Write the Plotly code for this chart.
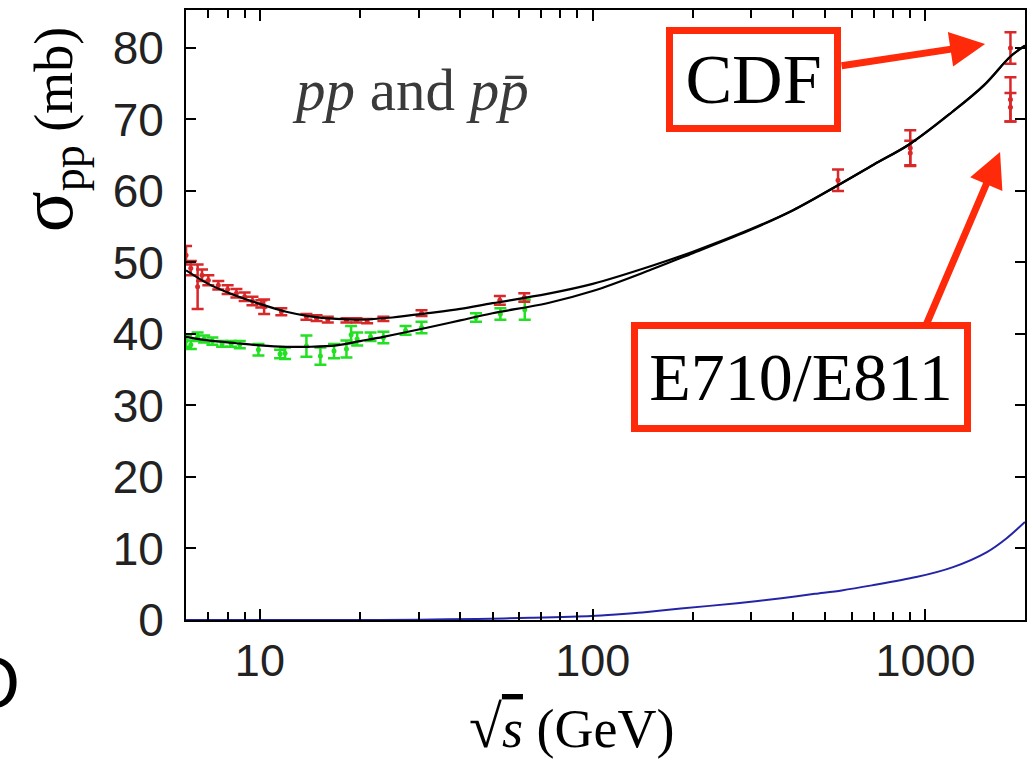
import plotly.graph_objects as go

# ---------------- data ----------------
# p-pbar (red) measurements
ppbar_sqrt_s = [6.0, 6.2, 6.5, 6.7, 7.0, 7.5, 8.0, 8.5, 9.0, 9.5, 10.1, 10.3, 11.6, 13.8, 14.8,
                16.0, 18.2, 19.5, 21.0, 23.5, 30.6, 52.6, 62.3, 546, 900, 900, 1800, 1800, 1800]
ppbar_sigma = [51.0, 49.2, 46.6, 48.2, 47.5, 46.8, 46.2, 45.7, 45.2, 44.6, 44.2, 43.8, 43.1, 42.4, 42.2,
               42.0, 41.9, 41.9, 41.8, 42.1, 42.9, 44.7, 45.1, 61.5, 65.3, 66.0, 80.0, 72.8, 71.7]
ppbar_err = [1.3, 1.0, 3.1, 0.8, 0.7, 0.6, 0.6, 0.6, 0.6, 0.6, 0.5, 1.0, 0.5, 0.4, 0.4,
             0.4, 0.3, 0.3, 0.3, 0.3, 0.4, 0.6, 0.6, 1.5, 1.7, 2.5, 2.2, 3.1, 2.0]

# p-p (green) measurements
pp_sqrt_s = [6.0, 6.2, 6.5, 6.8, 7.2, 7.7, 8.2, 8.7, 9.9, 11.5, 11.9, 13.8, 15.2, 16.7, 18.2,
             18.8, 19.6, 21.5, 23.5, 27.4, 30.6, 44.6, 52.8, 62.5]
pp_sigma = [39.0, 38.5, 39.6, 39.3, 39.0, 38.6, 38.6, 38.5, 37.8, 37.2, 37.3, 38.3, 36.9, 37.6, 37.9,
            39.9, 39.3, 39.6, 39.5, 40.5, 40.9, 42.3, 42.8, 43.4]
pp_err = [0.8, 0.6, 0.6, 0.5, 0.5, 0.4, 0.4, 0.5, 0.8, 0.6, 0.8, 1.5, 1.2, 1.0, 1.2,
          1.2, 0.9, 0.6, 0.8, 0.6, 0.8, 0.6, 0.8, 1.4]

# fitted curves
fit_ppbar_x = [6, 7, 8, 10, 12, 14, 17, 20, 25, 32, 40, 50, 73, 100, 150, 200, 300, 400,
               546, 700, 900, 1200, 1500, 1800, 1990]
fit_ppbar_y = [48.9, 47.0, 45.8, 44.2, 43.1, 42.5, 42.1, 42.0, 42.3, 42.9, 43.5, 44.3, 45.6, 47.0,
               49.5, 51.5, 54.7, 57.3, 60.8, 63.7, 66.6, 71.0, 74.8, 78.8, 80.3]
fit_pp_x = [6, 7, 8.5, 10, 12, 14, 17, 20, 23.5, 32, 40, 50, 73, 100, 150, 200, 300, 400,
            546, 700, 900, 1200, 1500, 1800, 1990]
fit_pp_y = [39.6, 39.1, 38.7, 38.4, 38.2, 38.2, 38.4, 39.0, 39.6, 40.9, 41.9, 42.9, 44.3, 46.0,
            49.0, 51.3, 54.6, 57.3, 60.8, 63.7, 66.6, 71.0, 74.8, 78.8, 80.3]
blue_x = [6, 20, 30, 45, 65, 99, 120, 141, 184, 272, 369, 465, 560, 690, 938, 1210, 1530, 1750, 1990]
blue_y = [0, 0, 0.05, 0.15, 0.3, 0.55, 0.8, 1.05, 1.6, 2.35, 3.05, 3.66, 4.14, 4.84, 6.0, 7.4, 9.5, 11.4, 13.7]

x_major = [10, 100, 1000]
x_major_text = ["10", "100", "1000"]
x_minor = [6, 7, 8, 9, 20, 30, 40, 50, 60, 70, 80, 90, 200, 300, 400, 500, 600, 700, 800, 900]
y_ticks = [0, 10, 20, 30, 40, 50, 60, 70, 80]

RED = "#d8282a"
GREEN = "#22e022"
BOX_RED = "#ff2a0a"

fig = go.Figure()

fig.add_trace(go.Scatter(x=blue_x, y=blue_y, mode="lines", line=dict(color="#2424a8", width=2, shape="spline",
                                                                     smoothing=0.8),
                         showlegend=False))
fig.add_trace(go.Scatter(x=pp_sqrt_s, y=pp_sigma, mode="markers",
                         marker=dict(color=GREEN, size=5),
                         error_y=dict(type="data", array=pp_err, color=GREEN, thickness=2.5, width=6),
                         showlegend=False))
fig.add_trace(go.Scatter(x=ppbar_sqrt_s, y=ppbar_sigma, mode="markers",
                         marker=dict(color=RED, size=5),
                         error_y=dict(type="data", array=ppbar_err, color=RED, thickness=2.5, width=6),
                         showlegend=False))
fig.add_trace(go.Scatter(x=fit_pp_x, y=fit_pp_y, mode="lines", line=dict(color="black", width=2.2, shape="spline"),
                         showlegend=False))
fig.add_trace(go.Scatter(x=fit_ppbar_x, y=fit_ppbar_y, mode="lines",
                         line=dict(color="black", width=2.2, shape="spline"), showlegend=False))

L, R, T, B = 186, 5, 10, 142
W, H = 1032, 762
pw, ph = W - L - R, H - T - B


def px(X):
    return (X - L) / pw


def py(Y):
    return (H - B - Y) / ph


fig.update_layout(
    width=W, height=H,
    margin=dict(l=L, r=R, t=T, b=B, pad=0),
    plot_bgcolor="white", paper_bgcolor="white",
    xaxis=dict(type="log", range=[0.778, 3.299], tickmode="array", tickvals=x_major, ticktext=x_major_text,
               ticks="inside", ticklen=11, tickwidth=1.5, tickcolor="black",
               minor=dict(tickmode="array", tickvals=x_minor, ticks="inside", ticklen=8, tickwidth=1.5,
                          tickcolor="black", showgrid=False),
               showline=True, linecolor="black", linewidth=2, mirror="ticks", showgrid=False, zeroline=False,
               tickfont=dict(family="Liberation Sans", size=45, color="#222"), ticklabelstandoff=0),
    yaxis=dict(range=[0, 85.3], tickmode="array", tickvals=y_ticks, ticks="inside", ticklen=10, tickwidth=1.5,
               tickcolor="black", showline=True, linecolor="black", linewidth=2, mirror="ticks",
               showgrid=False, zeroline=False,
               tickfont=dict(family="Liberation Sans", size=46, color="#222"), ticklabelstandoff=11),
)

ann = []
# arrows (drawn first, under the boxes)
ann.append(dict(xref="paper", yref="paper", x=px(987), y=py(44), ax=842 - 987, ay=66 - 44, axref="pixel",
                ayref="pixel", text="", showarrow=True, arrowhead=2, arrowsize=1, arrowwidth=7,
                arrowcolor=BOX_RED))
ann.append(dict(xref="paper", yref="paper", x=px(1002), y=py(152), ax=928 - 1002, ay=325 - 152, axref="pixel",
                ayref="pixel", text="", showarrow=True, arrowhead=2, arrowsize=1, arrowwidth=7,
                arrowcolor=BOX_RED))
# boxes
ann.append(dict(xref="paper", yref="paper", x=px(754.5), y=py(79.5), xanchor="center", yanchor="middle",
                text="CDF", showarrow=False, font=dict(family="Liberation Serif", size=70, color="black"),
                bordercolor=BOX_RED, borderwidth=7, borderpad=0, bgcolor="white", width=161, height=91))
ann.append(dict(xref="paper", yref="paper", x=px(802), y=py(377), xanchor="center", yanchor="middle",
                text="E710/E811", showarrow=False, font=dict(family="Liberation Serif", size=68, color="black"),
                bordercolor=BOX_RED, borderwidth=7, borderpad=0, bgcolor="white", width=326, height=96))
# in-plot label
ann.append(dict(xref="paper", yref="paper", x=px(411), y=py(90), xanchor="center", yanchor="middle",
                text='<i>pp</i> and <i>pp\u0304</i>',
                showarrow=False, font=dict(family="Liberation Serif", size=59, color="#3a3a3a")))
# axis titles
ann.append(dict(xref="paper", yref="paper", x=px(48), y=py(130), xanchor="center", yanchor="middle",
                textangle=-90, showarrow=False,
                text='<span style="font-size:76px">σ</span><sub><span style="font-size:46px">pp</span></sub> (mb)',
                font=dict(family="Liberation Serif", size=54, color="black")))
ann.append(dict(xref="paper", yref="paper", x=px(572), y=py(727), xanchor="center", yanchor="middle",
                showarrow=False,
                text='<span style="font-size:60px">√</span><span style="text-decoration:overline"><i>s</i></span> (GeV)',
                font=dict(family="Liberation Serif", size=54, color="black")))
# cut-off glyph at left edge (from neighbouring panel)
ann.append(dict(xref="paper", yref="paper", x=px(22), y=py(683), xanchor="right", yanchor="middle",
                showarrow=False, text="O", font=dict(family="Liberation Sans", size=72, color="black")))
fig.update_layout(annotations=ann)

fig.write_html("out.html")
